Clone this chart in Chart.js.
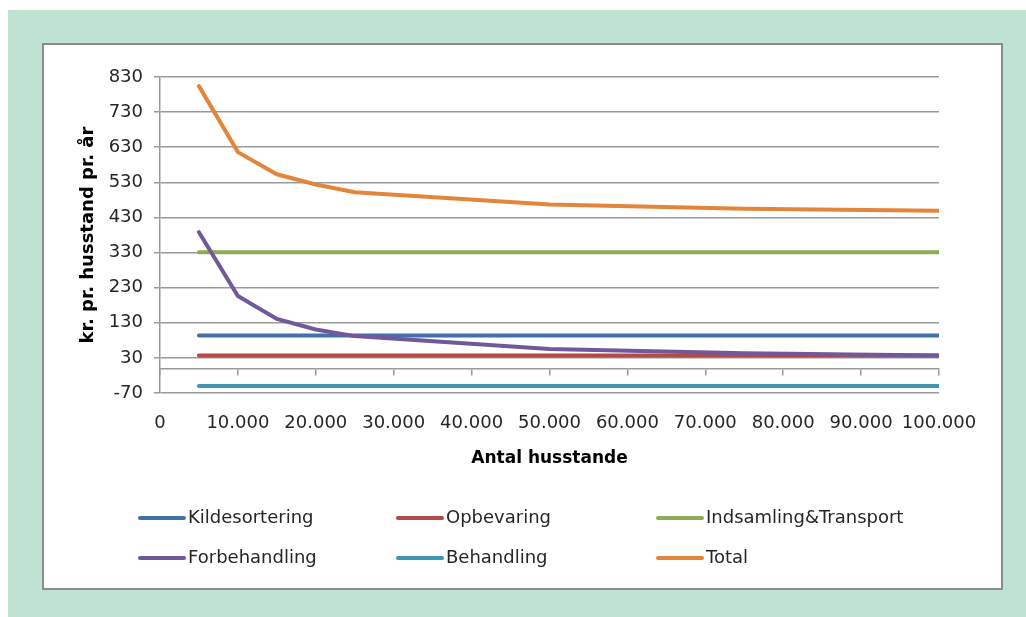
<!DOCTYPE html>
<html>
<head>
<meta charset="utf-8">
<script src="https://cdn.jsdelivr.net/npm/chart.js@4/dist/chart.umd.min.js"></script>
<style>
    body { margin: 0; background: #fff; }
    #frame { position: absolute; left: 8px; top: 10px; width: 1018px; height: 607px; background: #bfe2d3; }
    #box { position: absolute; left: 34px; top: 33px; width: 957px; height: 543px; background: #fff; border: 2px solid #8c8c8c; }
    canvas { display: block; }
</style>
</head>
<body>
<div id="frame">
    <div id="box"><canvas id="costChart" width="957" height="543"></canvas></div>
</div>
<script>
// households on the x axis
const households = [5000, 10000, 15000, 20000, 25000, 50000, 75000, 100000];

const seriesNames = ['Kildesortering', 'Opbevaring', 'Indsamling&Transport', 'Forbehandling', 'Behandling', 'Total'];
const kildesortering = [94, 94, 94, 94, 94, 94, 94, 94];
const opbevaring = [37, 37, 37, 37, 37, 37, 37, 37];
const indsamlingTransport = [331, 331, 331, 331, 331, 331, 331, 331];
const forbehandling = [388, 206, 141, 111, 92, 55, 43, 37];
const behandling = [-50, -50, -50, -50, -50, -50, -50, -50];
const total = [804, 616, 553, 524, 502, 467, 455, 449];

const seriesColors = ['#4470a8', '#b34a47', '#8eaa52', '#71589a', '#4197b0', '#e3853a'];

const yMin = -70, yMax = 830, yStep = 100;
const xMin = 0, xMax = 100000, xStep = 10000;

const allSeries = [kildesortering, opbevaring, indsamlingTransport, forbehandling, behandling, total];

const fmt = v => String(v).replace(/\B(?=(\d{3})+(?!\d))/g, '.');

const gridColor = '#9a9a9a';
const textColor = '#262626';
const tickFont = { family: 'DejaVu Sans', size: 18 };

// legend drawn in a fixed 3 column grid like the original
const gridLegend = {
    id: 'gridLegend',
    afterDraw(chart) {
        const ctx = chart.ctx;
        const cols = [96, 354, 614];
        const rows = [473, 513];
        ctx.save();
        ctx.font = '18px "DejaVu Sans"';
        ctx.textBaseline = 'middle';
        ctx.fillStyle = textColor;
        chart.data.datasets.forEach((ds, i) => {
            const x = cols[i % 3];
            const y = rows[Math.floor(i / 3)];
            ctx.strokeStyle = ds.borderColor;
            ctx.lineWidth = 4;
            ctx.lineCap = 'round';
            ctx.beginPath();
            ctx.moveTo(x, y);
            ctx.lineTo(x + 44, y);
            ctx.stroke();
            ctx.fillText(ds.label, x + 48, y);
        });
        ctx.restore();
    }
};

const datasets = allSeries.map((vals, i) => ({
    label: seriesNames[i],
    data: households.map((h, j) => ({ x: h, y: vals[j] })),
    borderColor: seriesColors[i],
    backgroundColor: seriesColors[i],
    borderWidth: 4,
    borderCapStyle: 'round',
    pointRadius: 0,
    tension: 0,
    order: allSeries.length - i
}));

new Chart(document.getElementById('costChart').getContext('2d'), {
    type: 'line',
    data: { datasets: datasets },
    options: {
        responsive: false,
        animation: false,
        layout: { padding: { left: 0, top: 32, right: 62, bottom: 115 } },
        plugins: {
            legend: { display: false },
            tooltip: { enabled: false }
        },
        scales: {
            x: {
                type: 'linear',
                position: 'bottom',
                min: xMin,
                max: xMax,
                grid: { display: false, drawTicks: false },
                border: { display: false },
                ticks: {
                    stepSize: xStep,
                    padding: 20,
                    maxRotation: 0,
                    color: textColor,
                    font: tickFont,
                    callback: v => fmt(v)
                },
                title: {
                    display: true,
                    text: 'Antal husstande',
                    color: '#000',
                    font: { family: 'DejaVu Sans', size: 17, weight: 'bold' },
                    padding: { top: 0, bottom: 4 }
                },
                afterFit: s => { s.height = 80; }
            },
            // axis line drawn at y = 0 with tick marks below it
            x2: {
                type: 'linear',
                axis: 'x',
                position: { y: 0 },
                min: xMin,
                max: xMax,
                grid: { drawOnChartArea: false, drawTicks: true, tickLength: 6, color: gridColor, lineWidth: 1.5 },
                border: { display: true, color: gridColor, width: 1.5 },
                ticks: { stepSize: xStep, display: false }
            },
            y: {
                min: yMin,
                max: yMax,
                grid: { color: gridColor, lineWidth: 1.5, tickLength: 6 },
                border: { color: gridColor, width: 1.5 },
                ticks: {
                    stepSize: yStep,
                    padding: 11,
                    color: textColor,
                    font: tickFont
                },
                title: {
                    display: true,
                    text: 'kr. pr. husstand pr. år',
                    color: '#000',
                    font: { family: 'DejaVu Sans', size: 18, weight: 'bold' },
                    padding: { top: 34, bottom: 0 }
                },
                afterFit: s => { s.width = 116; }
            }
        }
    },
    plugins: [gridLegend]
});
</script>
</body>
</html>
